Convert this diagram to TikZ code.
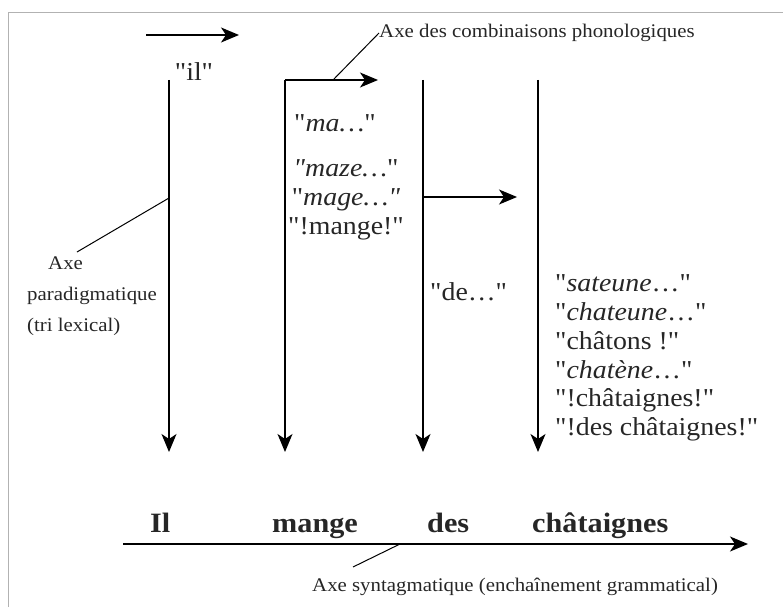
\documentclass[tikz,border=0pt]{standalone}
\usepackage{fontspec}
\setmainfont{Liberation Serif}[FakeStretch=1.08, Ligatures=TeXOff]
\usetikzlibrary{arrows.meta}

\tikzset{
  axe/.style={draw, line width=1.3pt, -{Stealth[length=18pt,width=15pt,inset=5pt]}},
  renvoi/.style={draw, line width=1pt},
  mot/.style={font=\fontsize{25.8}{28.8}\selectfont, inner sep=0pt},
  legende/.style={font=\fontsize{19.3}{31}\selectfont, inner sep=0pt},
  phrase/.style={font=\fontsize{28}{30}\selectfont\bfseries, inner sep=0pt, anchor=base west},
}

\begin{document}
\begin{tikzpicture}[x=1pt,y=-1pt,text=black!85]
\useasboundingbox (0,0) rectangle (783,607);
\draw[gray!60, line width=1pt] (8,607) -- (8,13) -- (783,13);

\node[mot] (1) at (194,72) {"il"};
\node[mot] (2) at (335,123) {"\textit{ma\ldots}"};
\node[mot, align=center] (3) at (346,200) {\textit{"maze\ldots}"\\"\textit{mage\ldots"}\\"!mange!"};
\node[mot, anchor=west] (4) at (430,292) {"de\ldots"};
\node[mot, anchor=west, align=left] (5) at (555,358) {"\textit{sateune}\ldots"\\"\textit{chateune}\ldots"\\"châtons !"\\"\textit{chatène}\ldots"\\"!châtaignes!"\\"!des châtaignes!"};

\node[phrase] (6) at (150,532) {Il};
\node[phrase] (7) at (272,532) {mange};
\node[phrase] (8) at (427,532) {des};
\node[phrase] (9) at (532,532) {châtaignes};

\node[legende, anchor=west] (10) at (379,33) {Axe des combinaisons phonologiques};
\node[legende, anchor=west, align=left] (11) at (27,296) {\hspace*{21pt}Axe\\paradigmatique\\(tri lexical)};
\node[legende, anchor=west] (12) at (312,587) {Axe syntagmatique (enchaînement grammatical)};

\coordinate (a1) at (146,35);
\coordinate (a2) at (239,35);
\coordinate (b1) at (169,80);
\coordinate (b2) at (169,452);
\coordinate (c1) at (285,80);
\coordinate (c2) at (285,452);
\coordinate (c3) at (378,80);
\coordinate (d1) at (423,80);
\coordinate (d2) at (423,452);
\coordinate (d3) at (423,197);
\coordinate (d4) at (517,197);
\coordinate (e1) at (538,80);
\coordinate (e2) at (538,452);
\coordinate (f1) at (123,544);
\coordinate (f2) at (748,544);

\path[axe, line width=1.8pt] (a1) -- (a2);
\path[axe] (b1) -- (b2);
\path[axe] (c1) -- (c2);
\path[axe] (c1) -- (c3);
\path[axe] (d1) -- (d2);
\path[axe] (d3) -- (d4);
\path[axe] (e1) -- (e2);
\path[axe, line width=1.6pt] (f1) -- (f2);

% traits de renvoi vers les legendes
\coordinate (g1) at (333,80);
\coordinate (g2) at (169,198);
\coordinate (g3) at (77,252);
\coordinate (g4) at (400,544);
\coordinate (g5) at (353,567);
\path[renvoi] (g1) -- (10.west);
\path[renvoi] (g2) -- (g3);
\path[renvoi] (g4) -- (g5);
\end{tikzpicture}
\end{document}
